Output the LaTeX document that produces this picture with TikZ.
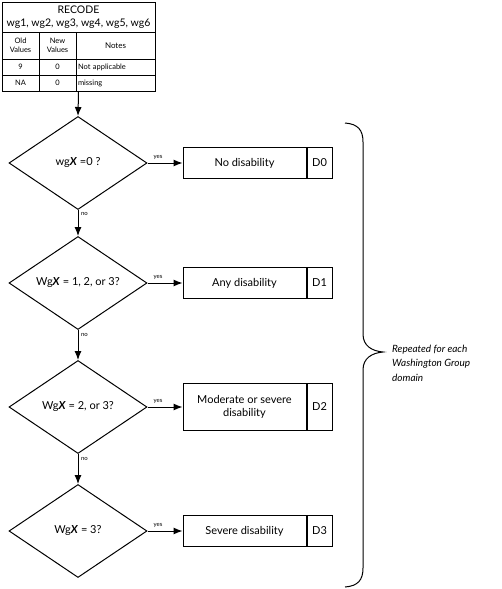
\documentclass[tikz,border=0pt]{standalone}
\usepackage{fontspec}
\setmainfont{Lato}
\usetikzlibrary{shapes.geometric,arrows.meta}
\begin{document}
\begin{tikzpicture}[x=1pt,y=-1pt,
 every node/.style={font=\fontsize{11}{13}\selectfont},
 dia/.style={diamond,draw,line width=1pt,minimum width=138pt,minimum height=93pt,inner sep=0pt,aspect=1.5},
 outbox/.style={draw,line width=1pt,minimum width=123pt,align=center,inner sep=2pt},
 codebox/.style={draw,line width=1pt,minimum width=25pt,inner sep=0pt},
 arr/.style={line width=1pt,-{Latex[length=9pt,width=7pt]}},
 cell/.style={draw,line width=0.7pt,inner sep=1pt,font=\fontsize{7.5}{8.5}\selectfont,align=center},
 lab/.style={font=\fontsize{6}{7}\selectfont,inner sep=2.5pt}]
\useasboundingbox (0,0) rectangle (502,589);
% table
\node[cell,minimum width=153pt,minimum height=30pt,font=\fontsize{10.5}{13}\selectfont] (title) at (78.5,17) {RECODE\\wg1, wg2, wg3, wg4, wg5, wg6};
\node[cell,minimum width=37pt,minimum height=27pt] (hold) at (20.5,45.5) {Old\\Values};
\node[cell,minimum width=37pt,minimum height=27pt] (hnew) at (57.5,45.5) {New\\Values};
\node[cell,minimum width=79pt,minimum height=27pt,font=\fontsize{8}{9}\selectfont] (hnotes) at (115.5,45.5) {Notes};
\node[cell,minimum width=37pt,minimum height=16pt] (r1a) at (20.5,67) {9};
\node[cell,minimum width=37pt,minimum height=16pt] (r1b) at (57.5,67) {0};
\node[cell,text width=75pt,inner xsep=2pt,minimum height=16pt,align=left] (r1c) at (115.5,67) {Not applicable};
\node[cell,minimum width=37pt,minimum height=16pt] (r2a) at (20.5,83) {NA};
\node[cell,minimum width=37pt,minimum height=16pt] (r2b) at (57.5,83) {0};
\node[cell,text width=75pt,inner xsep=2pt,minimum height=16pt,align=left] (r2c) at (115.5,83) {missing};
\node[draw,line width=1pt,minimum width=153pt,minimum height=89pt,inner sep=0pt] (tab) at (78.5,46.5) {};
% decisions
\node[dia] (d1) at (78,163) {wg\textbf{\textit{X}} =0 ?};
\node[dia] (d2) at (78,283) {Wg\textbf{\textit{X}} = 1, 2, or 3?};
\node[dia] (d3) at (78,407) {Wg\textbf{\textit{X}} = 2, or 3?};
\node[dia] (d4) at (78,531) {Wg\textbf{\textit{X}} = 3?};
% outcomes
\node[outbox,minimum height=31pt] (b0) at (244.5,163) {No disability};
\node[codebox,minimum height=31pt,anchor=west] (c0) at (b0.east) {D0};
\node[outbox,minimum height=31pt] (b1) at (244.5,283) {Any disability};
\node[codebox,minimum height=31pt,anchor=west] (c1) at (b1.east) {D1};
\node[outbox,minimum height=47pt] (b2) at (244.5,407) {Moderate or severe\\disability};
\node[codebox,minimum height=47pt,anchor=west] (c2) at (b2.east) {D2};
\node[outbox,minimum height=31pt] (b3) at (244.5,531) {Severe disability};
\node[codebox,minimum height=31pt,anchor=west] (c3) at (b3.east) {D3};
% connectors
\draw[arr] (tab.south) -- (d1.north);
\draw[arr] (d1.east) -- node[lab,above,pos=0.3]{yes} (b0.west);
\draw[arr] (d2.east) -- node[lab,above,pos=0.3]{yes} (b1.west);
\draw[arr] (d3.east) -- node[lab,above,pos=0.3]{yes} (b2.west);
\draw[arr] (d4.east) -- node[lab,above,pos=0.3]{yes} (b3.west);
\draw[arr] (d1.south) -- node[lab,right,pos=0.15]{no} (d2.north);
\draw[arr] (d2.south) -- node[lab,right,pos=0.15]{no} (d3.north);
\draw[arr] (d3.south) -- node[lab,right,pos=0.15]{no} (d4.north);
% brace
\draw[line width=1pt] (345,123) .. controls (358,124) and (363,130) .. (363,142) -- (363,334) .. controls (363,346) and (372,351) .. (383,352) .. controls (372,353) and (363,358) .. (363,370) -- (363,568) .. controls (363,580) and (358,586) .. (345,587);
\node[font=\fontsize{10}{14.5}\selectfont\itshape,align=left,anchor=west,inner sep=0pt] (rep) at (392,363) {Repeated for each\\Washington Group\\domain};
\end{tikzpicture}
\end{document}
